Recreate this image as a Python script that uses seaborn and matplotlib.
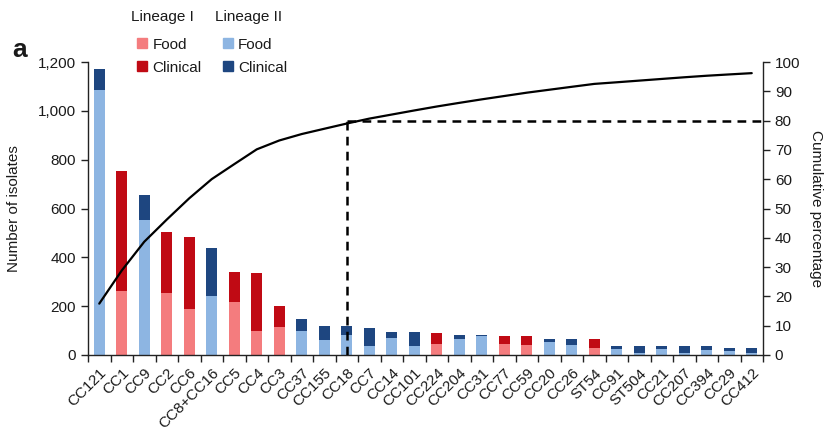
import numpy as np
import pandas as pd
import matplotlib
matplotlib.use("Agg")
import matplotlib.pyplot as plt
from matplotlib.lines import Line2D
from matplotlib.ticker import FuncFormatter, FixedLocator
import seaborn as sns

# Clonal complexes / sequence types, ordered by number of isolates
categories = ["CC121", "CC1", "CC9", "CC2", "CC6", "CC8+CC16", "CC5", "CC4", "CC3",
              "CC37", "CC155", "CC18", "CC7", "CC14", "CC101", "CC224", "CC204",
              "CC31", "CC77", "CC59", "CC20", "CC26", "ST54", "CC91", "ST504",
              "CC21", "CC207", "CC394", "CC29", "CC412"]
lineage = ["II", "I", "II", "I", "I", "II", "I", "I", "I",
           "II", "II", "II", "II", "II", "II", "I", "II",
           "II", "I", "I", "II", "II", "I", "II", "II",
           "II", "II", "II", "II", "II"]
food = [1085, 262, 553, 253, 187, 243, 217, 98, 116,
        100, 61, 80, 37, 68, 38, 45, 66,
        77, 44, 41, 52, 41, 27, 25, 10,
        24, 8, 22, 18, 10]
clinical = [85, 493, 102, 252, 298, 194, 124, 239, 86,
            47, 59, 39, 75, 25, 55, 45, 17,
            3, 32, 35, 15, 26, 39, 12, 28,
            14, 30, 13, 12, 19]
total_isolates = 6675      # all isolates, including the complexes not shown
threshold_pct = 80
threshold_cat = "CC18"

df = pd.DataFrame({"cc": categories, "lineage": lineage,
                   "food": food, "clinical": clinical})
df["total"] = df["food"] + df["clinical"]
df["cum_pct"] = df["total"].cumsum() / total_isolates * 100
df["pos"] = np.arange(len(df))

food_pal = {"I": "#F47C7E", "II": "#8DB5E2"}
clin_pal = {"I": "#C00A14", "II": "#1E4680"}

sns.set_style("white")
plt.rcParams["font.family"] = ["Liberation Sans", "DejaVu Sans"]
txt = "#1a1a1a"

fig = plt.figure(figsize=(8.30, 4.34), dpi=100)
ax = fig.add_axes([88 / 830, 1 - 355 / 434, (763 - 88) / 830, (355 - 62) / 434])

# stacked bars: clinical on top of food (total drawn first, food over it)
sns.barplot(data=df, x="cc", y="total", hue="lineage", palette=clin_pal,
            dodge=False, width=0.5, ax=ax, legend=False, saturation=1,
            order=categories, linewidth=0)
sns.barplot(data=df, x="cc", y="food", hue="lineage", palette=food_pal,
            dodge=False, width=0.5, ax=ax, legend=False, saturation=1,
            order=categories, linewidth=0)

n = len(categories)
ax.set_xlim(-0.5, n - 0.5)
ax.set_ylim(0, 1200)
ax.set_yticks(np.arange(0, 1201, 200))
ax.yaxis.set_major_formatter(FuncFormatter(lambda v, p: f"{int(v):,}"))
ax.set_xlabel("")
ax.set_ylabel("Number of isolates", fontsize=11, color=txt, labelpad=12)

ax.set_xticks(np.arange(n))
ax.set_xticklabels(categories, rotation=45, ha="right", rotation_mode="anchor",
                   fontsize=11, color=txt)
ax.xaxis.set_minor_locator(FixedLocator(np.arange(-0.5, n, 1.0)))
ax.tick_params(axis="x", which="major", length=0, pad=8)
ax.tick_params(axis="x", which="minor", length=5, width=1, color="#222", direction="out", bottom=True)
ax.tick_params(axis="y", length=5, width=1, color="#222", labelsize=11,
               labelcolor=txt, direction="out", left=True)

for s in ["top", "right"]:
    ax.spines[s].set_visible(False)
for s in ["left", "bottom"]:
    ax.spines[s].set_color("#222")
    ax.spines[s].set_linewidth(1)

# cumulative percentage on the right axis
ax2 = ax.twinx()
sns.lineplot(data=df, x="pos", y="cum_pct", ax=ax2, color="black", linewidth=1.6)
ax2.set_ylim(0, 100)
ax2.set_xlim(-0.5, n - 0.5)
ax2.set_yticks(np.arange(0, 101, 10))
ax2.set_ylabel("Cumulative percentage", fontsize=11, color=txt, rotation=270, labelpad=16)
ax2.set_xlabel("")
ax2.tick_params(axis="y", length=5, width=1, color="#222", labelsize=11,
                labelcolor=txt, direction="out", right=True)
for s in ["top", "left", "bottom"]:
    ax2.spines[s].set_visible(False)
ax2.spines["right"].set_color("#222")
ax2.spines["right"].set_linewidth(1)

# threshold guide
tx = categories.index(threshold_cat)
ax2.plot([tx, tx], [0, threshold_pct], color="black", lw=1.8, ls=(0, (3.5, 2.5)))
ax2.plot([tx, n - 0.5], [threshold_pct, threshold_pct], color="black", lw=1.8,
         ls=(0, (3.5, 2.5)))

# legend
handles = [
    Line2D([], [], marker="s", ls="none", markersize=7.5, color=food_pal["I"], label="Food"),
    Line2D([], [], marker="s", ls="none", markersize=7.5, color=clin_pal["I"], label="Clinical"),
    Line2D([], [], marker="s", ls="none", markersize=7.5, color=food_pal["II"], label="Food"),
    Line2D([], [], marker="s", ls="none", markersize=7.5, color=clin_pal["II"], label="Clinical"),
]
leg = fig.legend(handles=handles, ncol=2, loc="upper left",
                 bbox_to_anchor=(128 / 830, 1 - 30 / 434), frameon=False,
                 fontsize=11, handlelength=0.8, handletextpad=0.3,
                 columnspacing=1.3, labelspacing=0.6, borderpad=0)
for t in leg.get_texts():
    t.set_color(txt)
fig.text(131 / 830, 1 - 17 / 434, "Lineage I", fontsize=11, color=txt, va="center")
fig.text(215 / 830, 1 - 17 / 434, "Lineage II", fontsize=11, color=txt, va="center")

fig.text(12 / 830, 1 - 50 / 434, "a", fontsize=19, fontweight="bold", color=txt, va="center")

fig.savefig("out.png", dpi=100)
